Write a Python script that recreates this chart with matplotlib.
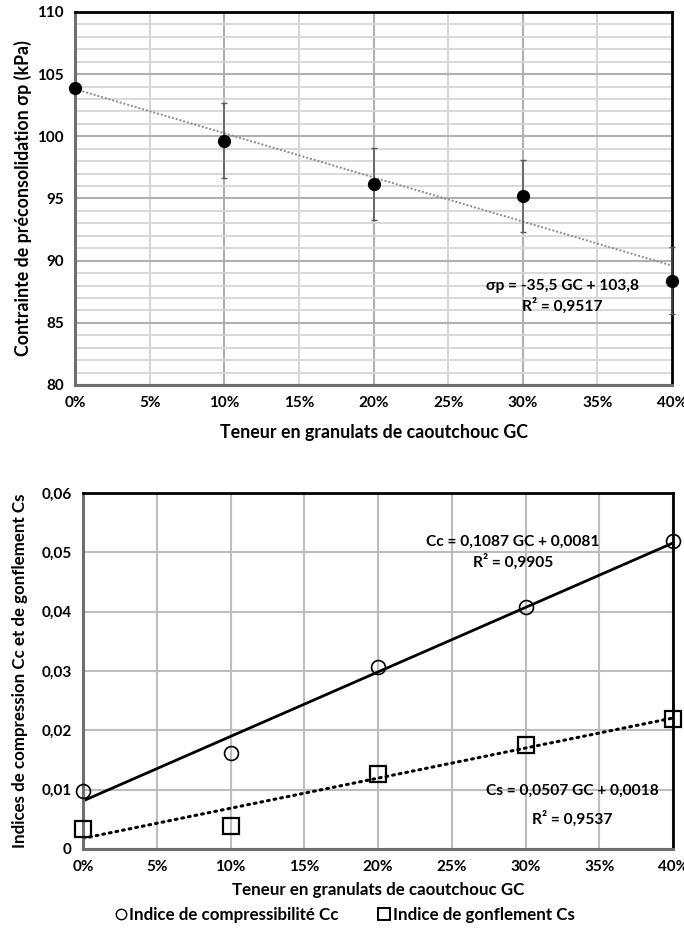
import matplotlib
matplotlib.use("Agg")
import matplotlib.pyplot as plt
from matplotlib.ticker import MultipleLocator, FuncFormatter
from matplotlib.lines import Line2D
import numpy as np

plt.rcParams['font.family'] = ['Lato', 'DejaVu Sans']
plt.rcParams['font.weight'] = 'bold'

# ---- data ----
gc = [0.0, 0.10, 0.20, 0.30, 0.40]
sigma_p = [103.9, 99.65, 96.2, 95.2, 88.4]
sigma_err = [0.0, 3.0, 2.9, 2.9, 2.7]
sigma_fit = [-35.5, 103.8]

cc = [0.0098, 0.0161, 0.0307, 0.0408, 0.0519]
cs = [0.0034, 0.0038, 0.0127, 0.0175, 0.0219]
cc_fit = [0.1087, 0.0081]
cs_fit = [0.0507, 0.0018]

xlabel = "Teneur en granulats de caoutchouc GC"
ylabel_top = "Contrainte de préconsolidation σp (kPa)"
ylabel_bot = "Indices de compression Cc et de gonflement Cs"
eq_top = ["σp = -35,5 GC + 103,8", "R² = 0,9517"]
eq_cc = ["Cc = 0,1087 GC + 0,0081", "R² = 0,9905"]
eq_cs = ["Cs = 0,0507 GC + 0,0018", "R² = 0,9537"]
leg_cc = "Indice de compressibilité Cc"
leg_cs = "Indice de gonflement Cs"

W, H = 684, 931
fig = plt.figure(figsize=(W / 100, H / 100), dpi=100)

def frac(l, t, r, b):
    return [l / W, 1 - b / H, (r - l) / W, (b - t) / H]

pct = FuncFormatter(lambda v, p: f"{v*100:.0f}%")
comma = lambda d: FuncFormatter(lambda v, p: ("0" if abs(v) < 1e-12 else f"{v:.{d}f}".replace('.', ',')))

def style_spines(ax):
    for s in ['top', 'right']:
        ax.spines[s].set_color('black')
        ax.spines[s].set_linewidth(2.0)
    for s in ['left', 'bottom']:
        ax.spines[s].set_color('#6f6f6f')
        ax.spines[s].set_linewidth(2.2)
    ax.tick_params(which='both', length=0)
    ax.tick_params(axis='both', labelsize=11, pad=8)
    for lab in ax.get_xticklabels() + ax.get_yticklabels():
        lab.set_fontweight('bold')

EQ = 11.2

# ---- top chart ----
ax1 = fig.add_axes(frac(75, 12, 672, 385))
ax1.set_xlim(0, 0.4)
ax1.set_ylim(80, 110)
ax1.xaxis.set_major_locator(MultipleLocator(0.05))
ax1.yaxis.set_major_locator(MultipleLocator(5))
ax1.yaxis.set_minor_locator(MultipleLocator(1))
ax1.xaxis.set_major_formatter(pct)
ax1.yaxis.set_major_formatter(FuncFormatter(lambda v, p: f"{v:.0f}"))
ax1.grid(which='minor', axis='y', color='#d6d6d6', lw=1.3)
ax1.grid(which='major', axis='y', color='#b0b0b0', lw=1.5)
for k in range(1, 8):
    xv = 0.05 * k
    ax1.axvline(xv, color='#b0b0b0' if k % 2 == 0 else '#d6d6d6', lw=1.5, zorder=0.5)
ax1.set_axisbelow(True)
xs = np.array([0, 0.4])
ax1.plot(xs, sigma_fit[0] * xs + sigma_fit[1], color='#8c8c8c', lw=1.4, ls=(0, (1, 1)), zorder=2)
ax1.errorbar(gc, sigma_p, yerr=sigma_err, fmt='none', ecolor='#555555', elinewidth=1.1,
             capsize=2.5, capthick=1.0, zorder=3, clip_on=False)
ax1.plot(gc, sigma_p, 'o', color='black', ms=8.5, zorder=4, clip_on=False)
ax1.set_xlabel(xlabel, fontsize=12.8, fontweight='bold', labelpad=10)
ax1.set_ylabel(ylabel_top, fontsize=12.8, fontweight='bold', labelpad=4)
style_spines(ax1)
fig.text(562 / W, 1 - 286 / H, eq_top[0], ha='center', va='center', fontsize=EQ, fontweight='bold')
fig.text(562 / W, 1 - 306 / H, eq_top[1], ha='center', va='center', fontsize=EQ, fontweight='bold')

# ---- bottom chart ----
ax2 = fig.add_axes(frac(83, 493, 673, 849))
ax2.set_xlim(0, 0.4)
ax2.set_ylim(0, 0.06)
ax2.xaxis.set_major_locator(MultipleLocator(0.05))
ax2.yaxis.set_major_locator(MultipleLocator(0.01))
ax2.xaxis.set_major_formatter(pct)
ax2.yaxis.set_major_formatter(comma(2))
ax2.grid(which='major', color='#bdbdbd', lw=1.5)
ax2.set_axisbelow(True)
ax2.plot(xs, cc_fit[0] * xs + cc_fit[1], color='black', lw=2.0, zorder=2)
ax2.plot(xs, cs_fit[0] * xs + cs_fit[1], color='black', lw=2.2, ls=(0, (0.6, 1.6)),
         dash_capstyle='round', zorder=2)
ax2.plot(gc, cc, 'o', mfc='none', mec='black', mew=1.2, ms=10, zorder=4, clip_on=False,
         label=leg_cc)
ax2.plot(gc, cs, 's', mfc='none', mec='black', mew=1.6, ms=11.5, zorder=4, clip_on=False,
         label=leg_cs)
ax2.set_xlabel(xlabel, fontsize=12.2, fontweight='bold', labelpad=6)
ax2.set_ylabel(ylabel_bot, fontsize=12.2, fontweight='bold', labelpad=10)
style_spines(ax2)
fig.text(513 / W, 1 - 542 / H, eq_cc[0], ha='center', va='center', fontsize=EQ, fontweight='bold')
fig.text(513 / W, 1 - 562 / H, eq_cc[1], ha='center', va='center', fontsize=EQ, fontweight='bold')
fig.text(572 / W, 1 - 791 / H, eq_cs[0], ha='center', va='center', fontsize=EQ, fontweight='bold')
fig.text(572 / W, 1 - 819 / H, eq_cs[1], ha='center', va='center', fontsize=EQ, fontweight='bold')

h, l = ax2.get_legend_handles_labels()
hh = [Line2D([], [], marker='o', ls='none', mfc='none', mec='black', mew=1.0, ms=7.5),
      Line2D([], [], marker='s', ls='none', mfc='none', mec='black', mew=1.4, ms=8.5)]
fig.legend(hh, l, loc='center', bbox_to_anchor=(345 / W, 1 - 915 / H), ncol=2, frameon=False,
           prop={'weight': 'bold', 'size': 12.2}, handlelength=0.6, handletextpad=0.2,
           columnspacing=2.4)

fig.savefig("out.png", dpi=100)
